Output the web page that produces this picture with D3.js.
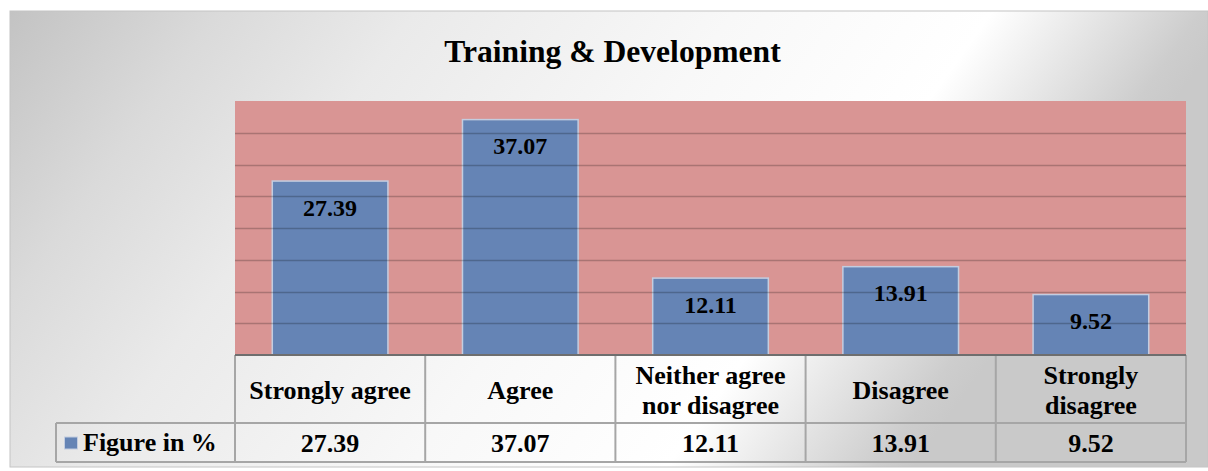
<!DOCTYPE html>
<html>
<head>
<meta charset="utf-8">
<script src="https://cdn.jsdelivr.net/npm/d3@7/dist/d3.min.js"></script>
<style>
  html, body { margin: 0; padding: 0; background: #ffffff; }
  svg { display: block; }
</style>
</head>
<body>
<svg id="chart" width="1208" height="471"></svg>
<script>
const title = "Training & Development";
const categories = ["Strongly agree", "Agree", "Neither agree nor disagree", "Disagree", "Strongly disagree"];
const headerLines = [["Strongly agree"], ["Agree"], ["Neither agree", "nor disagree"], ["Disagree"], ["Strongly", "disagree"]];
const values = [27.39, 37.07, 12.11, 13.91, 9.52];
const seriesName = "Figure in %";
const yDomain = [0, 40];
const yStep = 5;

const FONT = "Liberation Serif";

const svg = d3.select("#chart");
const W = 1208, H = 471;

// background gradient
const defs = svg.append("defs");
const grad = defs.append("linearGradient")
  .attr("id", "bg").attr("gradientUnits", "userSpaceOnUse")
  .attr("x1", 10).attr("y1", 11)
  .attr("x2", 10 + 0.814 * 1000).attr("y2", 11 + 0.581 * 1000);
[[0.0, "#c3c3c3"], [0.17, "#dadada"], [0.33, "#eaeaea"], [0.59, "#f8f8f8"], [0.80, "#ffffff"], [0.97, "#cdcdcd"], [1, "#c9c9c9"]]
  .forEach(([o, c]) => grad.append("stop").attr("offset", o).attr("stop-color", c));

svg.append("rect").attr("x", 10).attr("y", 11).attr("width", W - 10).attr("height", 456)
  .attr("fill", "url(#bg)").attr("stroke", "#c4c4c4").attr("stroke-width", 1);

const plot = { left: 235, right: 1186, top: 101, bottom: 355 };

const x = d3.scaleBand().domain(categories).range([plot.left, plot.right])
  .paddingInner(0.392).paddingOuter(0.196);
const col = d3.scaleBand().domain(categories).range([plot.left, plot.right]).padding(0);
const y = d3.scaleLinear().domain(yDomain).range([plot.bottom, plot.top]);

function txt(sel) {
  return sel.attr("font-family", FONT).attr("font-weight", "bold").attr("fill", "#000");
}

// title
txt(svg.append("text")).attr("x", 612.5).attr("y", 62)
  .attr("text-anchor", "middle").attr("font-size", "31.6px").text(title);

// plot area
svg.append("rect").attr("x", plot.left).attr("y", plot.top)
  .attr("width", plot.right - plot.left).attr("height", plot.bottom - plot.top)
  .attr("fill", "#d99594");

// bars
svg.append("g").selectAll("rect").data(values).join("rect")
  .attr("x", (d, i) => x(categories[i]))
  .attr("y", d => y(d))
  .attr("width", x.bandwidth())
  .attr("height", d => y(0) - y(d))
  .attr("fill", "#6584b5")
  .attr("stroke", "#c3cde0").attr("stroke-width", 1.5);

// gridlines (drawn over bars, semi-transparent)
const ticks = d3.range(yDomain[0] + yStep, yDomain[1], yStep);
svg.append("g").selectAll("line").data(ticks).join("line")
  .attr("x1", plot.left).attr("x2", plot.right)
  .attr("y1", d => Math.round(y(d)) + 0.5).attr("y2", d => Math.round(y(d)) + 0.5)
  .attr("stroke", "rgba(0,0,0,0.22)").attr("stroke-width", 1.5);

// data labels
txt(svg.append("g").selectAll("text").data(values).join("text"))
  .attr("x", (d, i) => x(categories[i]) + x.bandwidth() / 2)
  .attr("y", d => y(d) + 34.5)
  .attr("text-anchor", "middle").attr("font-size", "24px")
  .text(d => d.toFixed(2));

// data table
const rowTop = plot.bottom, rowMid = 423, rowBot = 462, legendLeft = 56;
const tbl = svg.append("g");
const border = "#a6a6a6";
tbl.append("line").attr("x1", plot.left).attr("x2", plot.right).attr("y1", rowMid).attr("y2", rowMid)
  .attr("stroke", border).attr("stroke-width", 2);
tbl.append("line").attr("x1", legendLeft).attr("x2", plot.left).attr("y1", rowMid).attr("y2", rowMid)
  .attr("stroke", border).attr("stroke-width", 2);
tbl.append("line").attr("x1", legendLeft).attr("x2", plot.right).attr("y1", rowBot).attr("y2", rowBot)
  .attr("stroke", border).attr("stroke-width", 2);
tbl.append("line").attr("x1", legendLeft).attr("x2", legendLeft).attr("y1", rowMid).attr("y2", rowBot)
  .attr("stroke", border).attr("stroke-width", 2);
const colEdges = categories.map(c => col(c)).concat([plot.right]);
tbl.selectAll("line.v").data(colEdges).join("line").attr("class", "v")
  .attr("x1", d => d).attr("x2", d => d).attr("y1", rowTop).attr("y2", rowBot)
  .attr("stroke", border).attr("stroke-width", 2);

// axis line
svg.append("line").attr("x1", plot.left).attr("x2", plot.right)
  .attr("y1", plot.bottom).attr("y2", plot.bottom)
  .attr("stroke", "#6e6e6e").attr("stroke-width", 2);

// header text
headerLines.forEach((lines, i) => {
  const cx = col(categories[i]) + col.bandwidth() / 2;
  const t = txt(tbl.append("text")).attr("text-anchor", "middle").attr("font-size", "26px");
  if (lines.length === 1) {
    t.append("tspan").attr("x", cx).attr("y", 398.5).text(lines[0]);
  } else {
    lines.forEach((l, j) => t.append("tspan").attr("x", cx).attr("y", 383.5 + j * 30).text(l));
  }
});
// value row
txt(tbl.selectAll("text.val").data(values).join("text").attr("class", "val"))
  .attr("x", (d, i) => col(categories[i]) + col.bandwidth() / 2)
  .attr("y", 451.5).attr("text-anchor", "middle").attr("font-size", "26px")
  .text(d => d.toFixed(2));

// legend key
tbl.append("rect").attr("x", 64.5).attr("y", 437).attr("width", 13).attr("height", 12)
  .attr("fill", "#6584b5").attr("stroke", "#c3cde0").attr("stroke-width", 1);
txt(tbl.append("text")).attr("x", 83).attr("y", 450.5).attr("font-size", "26px").text(seriesName);
</script>
</body>
</html>
